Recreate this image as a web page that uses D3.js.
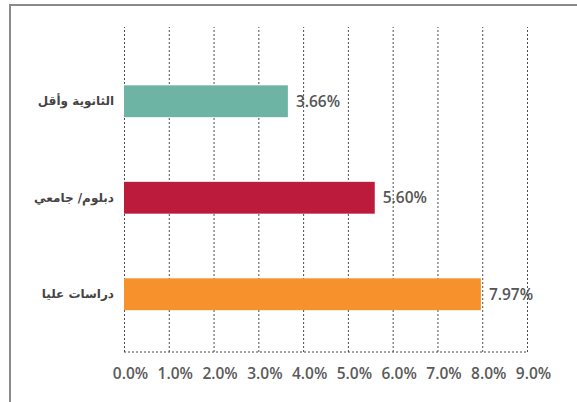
<!DOCTYPE html>
<html>
<head>
<meta charset="utf-8">
<script src="https://cdn.jsdelivr.net/npm/d3@7"></script>
<style>
  html, body { margin: 0; padding: 0; background: #fff; }
  svg { display: block; }
</style>
</head>
<body>
<svg id="chart" width="577" height="402"></svg>
<script>
// Unemployment rate by education level (percent)
const categories = ["الثانوية وأقل", "دبلوم/ جامعي", "دراسات عليا"];
const values = [3.66, 5.60, 7.97];
const colors = ["#6db4a4", "#bd1b3b", "#f7912b"];
const tickValues = [0, 1, 2, 3, 4, 5, 6, 7, 8, 9];
const tickLabels = ["0.0%", "1.0%", "2.0%", "3.0%", "4.0%", "5.0%", "6.0%", "7.0%", "8.0%", "9.0%"];

const svg = d3.select("#chart");
const W = 577, H = 402;

const gridTop = 27, gridBottom = 352;
const x = d3.scaleLinear().domain([0, 9]).range([124, 527]);
const y = d3.scaleBand().domain(categories).range([53, 342.5])
  .paddingInner(0.67).paddingOuter(0.335);

// frame (top and left edges)
svg.append("path")
  .attr("d", `M10,${H} L10,5 L${W},5`)
  .attr("fill", "none")
  .attr("stroke", "#8a8a8a")
  .attr("stroke-width", 2);

// vertical dotted grid + tick labels
const axis = d3.axisBottom(x)
  .tickValues(tickValues)
  .tickSize(-(gridBottom - gridTop))
  .tickFormat((d, i) => tickLabels[i]);

const gAxis = svg.append("g")
  .attr("transform", `translate(0,${gridBottom})`)
  .call(axis);
gAxis.select(".domain").remove();
gAxis.selectAll(".tick line")
  .attr("stroke", "#4d4d4d")
  .attr("stroke-width", 1)
  .attr("stroke-dasharray", "2,2");
gAxis.selectAll(".tick text")
  .attr("x", 6)
  .attr("y", 22)
  .attr("dy", "0.35em")
  .attr("fill", "#5a5a5a")
  .style("font-family", "'Open Sans', sans-serif")
  .style("font-size", "15.5px")
  .style("font-weight", "600");

// bottom dotted baseline
svg.append("line")
  .attr("x1", x(0)).attr("x2", x(9))
  .attr("y1", gridBottom).attr("y2", gridBottom)
  .attr("stroke", "#4d4d4d")
  .attr("stroke-dasharray", "2,2");

// bars
svg.append("g").selectAll("rect")
  .data(values)
  .join("rect")
  .attr("x", x(0))
  .attr("y", (d, i) => y(categories[i]))
  .attr("width", d => x(d) - x(0))
  .attr("height", y.bandwidth())
  .attr("fill", (d, i) => colors[i]);

// value labels
svg.append("g").selectAll("text")
  .data(values)
  .join("text")
  .attr("x", d => x(d) + 8)
  .attr("y", (d, i) => y(categories[i]) + y.bandwidth() / 2)
  .attr("dy", "0.35em")
  .attr("fill", "#555")
  .style("font-family", "'Open Sans', sans-serif")
  .style("font-size", "15.5px")
  .style("font-weight", "600")
  .text(d => d.toFixed(2) + "%");

// category labels
svg.append("g").selectAll("text")
  .data(categories)
  .join("text")
  .attr("x", 114)
  .attr("y", d => y(d) + y.bandwidth() / 2)
  .attr("dy", "0.35em")
  .attr("text-anchor", "end")
  .attr("fill", "#444")
  .style("font-family", "'DejaVu Sans', sans-serif")
  .style("font-size", "12px")
  .style("font-weight", "bold")
  .text(d => d);
</script>
</body>
</html>
